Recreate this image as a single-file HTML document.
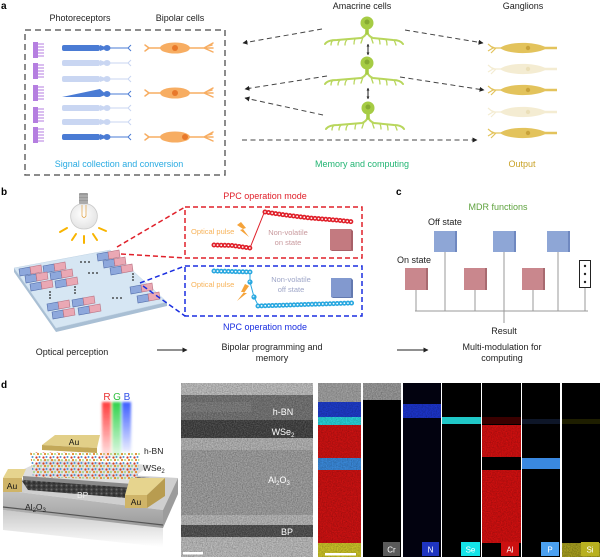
<!DOCTYPE html>
<html><head><meta charset="utf-8">
<style>
html,body{margin:0;padding:0;background:#fff;}
svg{display:block;font-family:"Liberation Sans",Arial,sans-serif;}
</style></head>
<body>
<svg width="600" height="559" viewBox="0 0 600 559" xmlns="http://www.w3.org/2000/svg">
<defs>
  <marker id="ah" viewBox="0 0 10 10" refX="9" refY="5" markerWidth="5" markerHeight="5" orient="auto-start-reverse">
    <path d="M0,0 L10,5 L0,10 Z" fill="#222"/>
  </marker>
  <marker id="ah2" viewBox="0 0 10 10" refX="9" refY="5" markerWidth="3" markerHeight="3" orient="auto-start-reverse">
    <path d="M0,0 L10,5 L0,10 Z" fill="#222"/>
  </marker>
  <filter id="nz" x="0" y="0" width="100%" height="100%">
    <feTurbulence type="fractalNoise" baseFrequency="0.8" numOctaves="2" seed="4"/>
    <feColorMatrix type="matrix" values="0 0 0 0 0  0 0 0 0 0  0 0 0 0 0  0 0 0 -1.4 1.0"/>
  </filter>
  <filter id="nzw" x="0" y="0" width="100%" height="100%">
    <feTurbulence type="fractalNoise" baseFrequency="0.9" numOctaves="2" seed="9"/>
    <feColorMatrix type="matrix" values="0 0 0 0 1  0 0 0 0 1  0 0 0 0 1  0 0 0 -1.6 1.0"/>
  </filter>
  <filter id="bl"><feGaussianBlur stdDeviation="1.2"/></filter>
  <linearGradient id="beamR" x1="0" y1="0" x2="0" y2="1"><stop offset="0" stop-color="#ff3b3b"/><stop offset="1" stop-color="#ff3b3b" stop-opacity="0.1"/></linearGradient>
  <linearGradient id="beamG" x1="0" y1="0" x2="0" y2="1"><stop offset="0" stop-color="#2fd24a"/><stop offset="1" stop-color="#2fd24a" stop-opacity="0.1"/></linearGradient>
  <linearGradient id="beamB" x1="0" y1="0" x2="0" y2="1"><stop offset="0" stop-color="#3b5cff"/><stop offset="1" stop-color="#3b5cff" stop-opacity="0.1"/></linearGradient>
  <linearGradient id="subF" x1="0" y1="0" x2="0" y2="1"><stop offset="0" stop-color="#c4c4c4"/><stop offset="1" stop-color="#9a9a9a"/></linearGradient>
  <linearGradient id="refl" x1="0" y1="0" x2="0" y2="1"><stop offset="0" stop-color="#b0b0b0"/><stop offset="1" stop-color="#ffffff"/></linearGradient>
  <radialGradient id="glass" cx="0.45" cy="0.4" r="0.6"><stop offset="0" stop-color="#ffffff"/><stop offset="1" stop-color="#e4e4e4"/></radialGradient>
  <pattern id="mol" width="7" height="6" patternUnits="userSpaceOnUse">
    <rect width="7" height="6" fill="none"/>
    <circle cx="1.5" cy="1.5" r="1.1" fill="#d23a2a"/>
    <circle cx="4.5" cy="1" r="1" fill="#4d8fd6"/>
    <circle cx="3" cy="4" r="1.1" fill="#e08a2a"/>
    <circle cx="6" cy="4" r="0.9" fill="#8fd05a"/>
    <circle cx="0.5" cy="5" r="0.8" fill="#f2f2f2"/>
  </pattern>
  <pattern id="bpp" width="5" height="4" patternUnits="userSpaceOnUse">
    <rect width="5" height="4" fill="#3c3c3c"/>
    <circle cx="1.5" cy="1.5" r="1" fill="#6a6a6a"/>
    <circle cx="4" cy="3" r="0.8" fill="#222"/>
  </pattern>

  <g id="rod">
    <rect x="62" y="-3" width="38" height="6" rx="2" stroke="none"/>
    <path d="M100,-3 L104,-1.5 L104,1.5 L100,3 Z" stroke="none"/>
    <ellipse cx="107" cy="0" rx="3.5" ry="3" stroke="none"/>
    <path d="M110,0 L128,0 M128,0 L131,-3 M128,0 L131,3" fill="none" stroke-width="1"/>
  </g>
  <g id="bip">
    <ellipse cx="175" cy="0" rx="15" ry="5.5" stroke="none"/>
    <path d="M161,0 L149,0 L145,-3 M149,0 L145,3 M189,0 L204,0 L213,-5 M204,0 L213,0 M204,0 L213,4 M208,-2 L212,-3" fill="none" stroke-width="1.5" stroke-linecap="round"/>
  </g>
  <g id="gg">
    <path d="M500,0 C507,-6 532,-7 545,-1.2 L557,-1.2 L557,1.2 L545,1.2 C532,7 507,6 500,0 Z" stroke="none"/>
    <path d="M501,0 L493,0 L488,-4 M493,0 L488,3 M496,0 L491,5 M495,0 L490,-2" fill="none" stroke-width="1.2"/>
  </g>
  <g id="am" fill="none" stroke="#b8d65c" stroke-linecap="round">
    <path d="M0,5 C0,10 -1,13 -6,15 L-30,17 C-36,17 -40,18 -42,21" stroke-width="2"/>
    <path d="M0,5 C0,10 1,13 6,15 L26,17 C31,17 34,18 36,21" stroke-width="2"/>
    <path d="M-34,17 Q-36,19 -36,22 M-27,17 Q-29,19 -29,22 M-20,16.5 Q-22,19 -22,22 M-12,16 Q-13,18 -13,21 M-4,14 Q-5,17 -6,20 M4,14 Q5,17 6,20 M12,16 Q13,18 13,21 M19,16.5 Q20,19 20,22 M27,17 Q28,19 29,22" stroke-width="1.3"/>
    <path d="M0,3 L0,10" stroke-width="3.5" stroke="#a6cc44"/>
    <circle r="6.5" fill="#a6cc44" stroke="none"/>
    <circle cx="0" cy="-1" r="2.5" fill="#86aa32" stroke="none"/>
  </g>
  <g id="pair" stroke-width="0.6">
    <polygon points="0,2 11,0 12,7 1,9" fill="#8ea8dc" stroke="#4f6aa8"/>
    <polygon points="11,0 22,-2 23,5 12,7" fill="#eaa8b4" stroke="#b87080"/>
  </g>
</defs>

<!-- ================= PANEL A ================= -->
<text x="1" y="9" font-size="10" font-weight="bold" fill="#000">a</text>
<text x="80" y="21" font-size="9" text-anchor="middle" fill="#222">Photoreceptors</text>
<text x="180" y="21" font-size="9" text-anchor="middle" fill="#222">Bipolar cells</text>
<text x="362" y="9" font-size="9" text-anchor="middle" fill="#222">Amacrine cells</text>
<text x="523" y="9" font-size="9" text-anchor="middle" fill="#222">Ganglions</text>

<rect x="25" y="30" width="200" height="145" fill="none" stroke="#666" stroke-width="1.5" stroke-dasharray="6,4"/>

<g fill="#b57ee0" stroke="#b57ee0" stroke-width="0.9">
  <g transform="translate(0,50)"><rect x="33" y="-8" width="5" height="16" stroke="none"/><path d="M38,-6 L44,-6 M38,-3 L44,-3 M38,0 L44,0 M38,3 L44,3 M38,6 L44,6" fill="none"/></g>
  <g transform="translate(0,71)"><rect x="33" y="-8" width="5" height="16" stroke="none"/><path d="M38,-6 L44,-6 M38,-3 L44,-3 M38,0 L44,0 M38,3 L44,3 M38,6 L44,6" fill="none"/></g>
  <g transform="translate(0,93)"><rect x="33" y="-8" width="5" height="16" stroke="none"/><path d="M38,-6 L44,-6 M38,-3 L44,-3 M38,0 L44,0 M38,3 L44,3 M38,6 L44,6" fill="none"/></g>
  <g transform="translate(0,115)"><rect x="33" y="-8" width="5" height="16" stroke="none"/><path d="M38,-6 L44,-6 M38,-3 L44,-3 M38,0 L44,0 M38,3 L44,3 M38,6 L44,6" fill="none"/></g>
  <g transform="translate(0,135)"><rect x="33" y="-8" width="5" height="16" stroke="none"/><path d="M38,-6 L44,-6 M38,-3 L44,-3 M38,0 L44,0 M38,3 L44,3 M38,6 L44,6" fill="none"/></g>
</g>

<use href="#rod" transform="translate(0,48)" fill="#4a7bd4" stroke="#4a7bd4"/>
<use href="#rod" transform="translate(0,63)" fill="#c9d6f2" stroke="#c9d6f2"/>
<use href="#rod" transform="translate(0,79)" fill="#c9d6f2" stroke="#c9d6f2"/>
<g fill="#4a7bd4" stroke="#4a7bd4">
  <path d="M62,97 L100,89 L100,97 Z" stroke="none"/>
  <path d="M100,89 L104,92.5 L104,95.5 L100,97 Z" stroke="none"/>
  <ellipse cx="107" cy="94" rx="3.5" ry="3" stroke="none"/>
  <path d="M110,94 L128,94 M128,94 L131,91 M128,94 L131,97" fill="none" stroke-width="1"/>
</g>
<use href="#rod" transform="translate(0,108)" fill="#c9d6f2" stroke="#c9d6f2"/>
<use href="#rod" transform="translate(0,122)" fill="#c9d6f2" stroke="#c9d6f2"/>
<use href="#rod" transform="translate(0,137)" fill="#4a7bd4" stroke="#4a7bd4"/>

<use href="#bip" transform="translate(0,48)" fill="#f7ad62" stroke="#f7ad62"/>
<circle cx="175" cy="48" r="3" fill="#e8782a"/>
<use href="#bip" transform="translate(0,93)" fill="#f7ad62" stroke="#f7ad62"/>
<circle cx="175" cy="93" r="3" fill="#e8782a"/>
<use href="#bip" transform="translate(0,137)" fill="#f7ad62" stroke="#f7ad62"/>
<circle cx="185" cy="137" r="3" fill="#e8782a"/>

<use href="#am" transform="translate(367,23)"/>
<use href="#am" transform="translate(367,63)"/>
<use href="#am" transform="translate(368,108)"/>
<g stroke="#222" stroke-width="1">
  <line x1="368" y1="44" x2="368" y2="55" marker-start="url(#ah2)" marker-end="url(#ah2)"/>
  <line x1="368" y1="88" x2="368" y2="99" marker-start="url(#ah2)" marker-end="url(#ah2)"/>
</g>

<use href="#gg" transform="translate(0,48)" fill="#e3c35c" stroke="#e3c35c"/>
<circle cx="528" cy="48" r="2.2" fill="#c8a23a"/>
<use href="#gg" transform="translate(0,69)" fill="#f4ecd2" stroke="#f4ecd2"/>
<circle cx="528" cy="69" r="2.2" fill="#ebdfb8"/>
<use href="#gg" transform="translate(0,90)" fill="#e3c35c" stroke="#e3c35c"/>
<circle cx="528" cy="90" r="2.2" fill="#c8a23a"/>
<use href="#gg" transform="translate(0,112)" fill="#f4ecd2" stroke="#f4ecd2"/>
<circle cx="528" cy="112" r="2.2" fill="#ebdfb8"/>
<use href="#gg" transform="translate(0,133)" fill="#e3c35c" stroke="#e3c35c"/>
<circle cx="528" cy="133" r="2.2" fill="#c8a23a"/>

<g stroke="#444" stroke-width="1" stroke-dasharray="5,3.5" fill="none">
  <line x1="322" y1="29" x2="243" y2="43" marker-end="url(#ah)"/>
  <line x1="327" y1="76" x2="245" y2="89" marker-end="url(#ah)"/>
  <line x1="323" y1="115" x2="245" y2="98" marker-end="url(#ah)"/>
  <line x1="242" y1="140" x2="477" y2="140" marker-end="url(#ah)"/>
  <line x1="405" y1="30" x2="483" y2="43" marker-end="url(#ah)"/>
  <line x1="400" y1="77" x2="484" y2="90" marker-end="url(#ah)"/>
</g>

<text x="119" y="167" font-size="9" text-anchor="middle" fill="#29abe2">Signal collection and conversion</text>
<text x="362" y="167" font-size="9" text-anchor="middle" fill="#22b573">Memory and computing</text>
<text x="522" y="167" font-size="9" text-anchor="middle" fill="#c9a227">Output</text>

<!-- ================= PANEL B ================= -->
<text x="1" y="195" font-size="10" font-weight="bold" fill="#000">b</text>

<g>
  <rect x="79" y="193" width="9" height="11" fill="#9a9a9a" rx="1"/>
  <path d="M79,196 L88,196 M79,199 L88,199 M79,202 L88,202" stroke="#c8c8c8" stroke-width="0.8"/>
  <path d="M80,204 C66,208 68,229 84,229 C100,229 102,208 88,204 Z" fill="url(#glass)" stroke="#c9c9c9" stroke-width="0.8"/>
  <path d="M82,205 L82,216 Q84,219 86,216 L86,205" fill="none" stroke="#e0a040" stroke-width="0.7"/>
  <g stroke="#f8b400" stroke-width="2" stroke-linecap="round">
    <line x1="60" y1="232" x2="67" y2="228"/>
    <line x1="72" y1="240" x2="76" y2="234"/>
    <line x1="84" y1="243" x2="84" y2="236"/>
    <line x1="97" y1="240" x2="93" y2="234"/>
    <line x1="106" y1="231" x2="99" y2="228"/>
  </g>
</g>

<polygon points="14,268 56,328 167,302 167,306 56,332 14,272" fill="#a9bfd4"/>
<polygon points="14,268 110,250 167,302 56,328" fill="#d6e6f3" stroke="#c0d3e4" stroke-width="0.5"/>
<use href="#pair" x="19" y="267"/>
<use href="#pair" x="43" y="264"/>
<use href="#pair" x="25" y="274"/>
<use href="#pair" x="50" y="271"/>
<use href="#pair" x="30" y="282"/>
<use href="#pair" x="55" y="279"/>
<use href="#pair" x="97" y="252"/>
<use href="#pair" x="103" y="259"/>
<use href="#pair" x="110" y="266"/>
<use href="#pair" x="47" y="302"/>
<use href="#pair" x="72" y="298"/>
<use href="#pair" x="52" y="310"/>
<use href="#pair" x="78" y="306"/>
<use href="#pair" x="130" y="285"/>
<use href="#pair" x="137" y="294"/>
<g fill="#222">
  <circle cx="81" cy="262" r="0.9"/><circle cx="85" cy="262" r="0.9"/><circle cx="89" cy="262" r="0.9"/>
  <circle cx="89" cy="273" r="0.9"/><circle cx="93" cy="273" r="0.9"/><circle cx="97" cy="273" r="0.9"/>
  <circle cx="113" cy="298" r="0.9"/><circle cx="117" cy="298" r="0.9"/><circle cx="121" cy="298" r="0.9"/>
  <circle cx="50" cy="292" r="0.9"/><circle cx="50" cy="295" r="0.9"/><circle cx="50" cy="298" r="0.9"/>
  <circle cx="75" cy="287" r="0.9"/><circle cx="75" cy="290" r="0.9"/><circle cx="75" cy="293" r="0.9"/>
  <circle cx="133" cy="274" r="0.9"/><circle cx="133" cy="277" r="0.9"/><circle cx="133" cy="280" r="0.9"/>
</g>

<g fill="none" stroke-width="1.5" stroke-dasharray="5,3">
  <line x1="117" y1="247" x2="185" y2="207" stroke="#e0202a"/>
  <line x1="121" y1="254" x2="185" y2="258" stroke="#e0202a"/>
  <line x1="140" y1="283" x2="185" y2="266" stroke="#1a2ee0"/>
  <line x1="143" y1="286" x2="185" y2="316" stroke="#1a2ee0"/>
</g>

<text x="265" y="199" font-size="9" text-anchor="middle" fill="#e0202a">PPC operation mode</text>
<rect x="185" y="207" width="177" height="51" fill="none" stroke="#e0202a" stroke-width="1.5" stroke-dasharray="5,3"/>
<rect x="185" y="266" width="177" height="50" fill="none" stroke="#1a2ee0" stroke-width="1.5" stroke-dasharray="5,3"/>
<text x="265" y="330" font-size="9" text-anchor="middle" fill="#1a2ee0">NPC operation mode</text>

<!-- PPC content -->
<text x="191" y="234" font-size="7.5" fill="#f7b35a">Optical pulse</text>
<polygon points="241,222 246,228 243,229 249,237 240,230 243,229 237,225" fill="#f5a33a"/>
<text x="288" y="235" font-size="7.5" text-anchor="middle" fill="#c99a9e">Non-volatile</text>
<text x="288" y="245" font-size="7.5" text-anchor="middle" fill="#c99a9e">on state</text>
<rect x="330" y="229" width="21" height="21" fill="#c37a80"/>
<polygon points="351,229 353,231 353,251 351,250" fill="#a86068"/>
<polygon points="330,250 351,250 353,251 332,251" fill="#a86068"/>
<line x1="250" y1="248" x2="264" y2="213" stroke="#e0202a" stroke-width="1"/>
<g fill="none" stroke-linecap="round" stroke-dasharray="0 3.6">
  <path d="M214,245 L232,245.5 L250,248" stroke="#e0202a" stroke-width="5"/>
  <path d="M214,245 L232,245.5 L250,248" stroke="#fff" stroke-width="1.8"/>
  <path d="M265,212 L285,215 L310,218 L335,220 L354,222" stroke="#e0202a" stroke-width="5"/>
  <path d="M265,212 L285,215 L310,218 L335,220 L354,222" stroke="#fff" stroke-width="1.8"/>
</g>

<!-- NPC content -->
<text x="191" y="287" font-size="7.5" fill="#f7b35a">Optical pulse</text>
<polygon points="245,284 241,292 244,292 237,301 247,293 244,293 249,286" fill="#f5a33a"/>
<text x="291" y="282" font-size="7.5" text-anchor="middle" fill="#9ea6c8">Non-volatile</text>
<text x="291" y="292" font-size="7.5" text-anchor="middle" fill="#9ea6c8">off state</text>
<rect x="331" y="278" width="20" height="19" fill="#8299cf"/>
<polygon points="351,278 353,280 353,298 351,297" fill="#6379b0"/>
<polygon points="331,297 351,297 353,298 333,298" fill="#6379b0"/>
<path d="M250,272 L250,282 L254,297 L258,305" fill="none" stroke="#29a8e0" stroke-width="1"/>
<g fill="none" stroke-linecap="round" stroke-dasharray="0 3.6">
  <path d="M214,271 L250,272" stroke="#29a8e0" stroke-width="5"/>
  <path d="M214,271 L250,272" stroke="#fff" stroke-width="1.8"/>
  <path d="M258,306 L353,303" stroke="#29a8e0" stroke-width="5"/>
  <path d="M258,306 L353,303" stroke="#fff" stroke-width="1.8"/>
</g>
<circle cx="250" cy="282" r="2.6" fill="#29a8e0"/>
<circle cx="254" cy="297" r="2.6" fill="#29a8e0"/>
<circle cx="249.5" cy="281.5" r="0.9" fill="#bfe6f8"/>
<circle cx="253.5" cy="296.5" r="0.9" fill="#bfe6f8"/>

<text x="72" y="355" font-size="9" text-anchor="middle" fill="#222">Optical perception</text>
<line x1="157" y1="350" x2="187" y2="350" stroke="#222" stroke-width="1" marker-end="url(#ah)"/>
<text x="272" y="350" font-size="9" text-anchor="middle" fill="#222">Bipolar programming and</text>
<text x="272" y="361" font-size="9" text-anchor="middle" fill="#222">memory</text>

<!-- ================= PANEL C ================= -->
<text x="396" y="195" font-size="10" font-weight="bold" fill="#000">c</text>
<text x="498" y="210" font-size="9" text-anchor="middle" fill="#5ea23e">MDR functions</text>
<text x="428" y="225" font-size="9" fill="#222">Off state</text>
<text x="397" y="263" font-size="9" fill="#222">On state</text>
<g stroke="#999" stroke-width="1" fill="none">
  <line x1="415" y1="311" x2="588" y2="311"/>
  <line x1="416" y1="290" x2="416" y2="311"/>
  <line x1="445" y1="252" x2="445" y2="311"/>
  <line x1="475" y1="290" x2="475" y2="311"/>
  <line x1="504" y1="252" x2="504" y2="323"/>
  <line x1="533" y1="290" x2="533" y2="311"/>
  <line x1="558" y1="252" x2="558" y2="311"/>
  <line x1="585" y1="288" x2="585" y2="311"/>
</g>
<g>
  <rect x="434" y="231" width="22" height="21" fill="#8ea6d6"/><rect x="455" y="231" width="2" height="21" fill="#6f88c0"/>
  <rect x="493" y="231" width="22" height="21" fill="#8ea6d6"/><rect x="514" y="231" width="2" height="21" fill="#6f88c0"/>
  <rect x="547" y="231" width="22" height="21" fill="#8ea6d6"/><rect x="568" y="231" width="2" height="21" fill="#6f88c0"/>
  <rect x="405" y="268" width="22" height="22" fill="#c9878d"/><rect x="426" y="268" width="2" height="22" fill="#a86a70"/>
  <rect x="464" y="268" width="22" height="22" fill="#c9878d"/><rect x="485" y="268" width="2" height="22" fill="#a86a70"/>
  <rect x="522" y="268" width="22" height="22" fill="#c9878d"/><rect x="543" y="268" width="2" height="22" fill="#a86a70"/>
  <rect x="579.5" y="260.5" width="11" height="27" fill="#fff" stroke="#222" stroke-width="1"/>
  <circle cx="585" cy="266" r="1.2" fill="#222"/><circle cx="585" cy="274" r="1.2" fill="#222"/><circle cx="585" cy="282" r="1.2" fill="#222"/>
</g>
<text x="504" y="334" font-size="9" text-anchor="middle" fill="#222">Result</text>
<line x1="397" y1="350" x2="428" y2="350" stroke="#222" stroke-width="1" marker-end="url(#ah)"/>
<text x="502" y="350" font-size="9" text-anchor="middle" fill="#222">Multi-modulation for</text>
<text x="502" y="361" font-size="9" text-anchor="middle" fill="#222">computing</text>

<!-- ================= PANEL D ================= -->
<text x="1" y="388" font-size="10" font-weight="bold" fill="#000">d</text>

<!-- device -->
<polygon points="3,510 163,527 163,547 3,530" fill="url(#refl)" opacity="0.7"/>
<polygon points="3,490 40,470 178,478 163,510" fill="#cfcfcf"/>
<polygon points="3,490 163,510 163,528 3,510" fill="url(#subF)"/>
<line x1="3" y1="507" x2="163" y2="525" stroke="#555" stroke-width="1.2"/>
<polygon points="163,510 178,478 178,494 163,528" fill="#9c9c9c"/>
<!-- BP -->
<polygon points="22,481 42,472 150,478 127,498 28,490" fill="url(#bpp)"/>
<!-- WSe2 slab -->
<polygon points="22,470 45,459 150,465 138,474 133,486 23,478" fill="#dedede"/>
<polygon points="23,476 133,484 133,488 23,480" fill="#8a8a8a"/>
<!-- molecules -->
<polygon points="30,452 140,453 137,480 33,477" fill="url(#mol)"/>
<!-- left Au -->
<polygon points="3,478 8,469 26,469 22,478" fill="#e6d48e"/>
<polygon points="3,478 22,478 22,492 3,492" fill="#cfb468"/>
<text x="12" y="489" font-size="8.5" text-anchor="middle" fill="#111">Au</text>
<!-- right Au -->
<polygon points="125,495 130,478 165,478 147,495" fill="#e6d48e"/>
<polygon points="125,495 147,495 147,508 125,508" fill="#cfb468"/>
<polygon points="147,495 165,478 165,496 147,508" fill="#b89c50"/>
<text x="136" y="505" font-size="8.5" text-anchor="middle" fill="#111">Au</text>
<!-- top Au -->
<polygon points="42,445 55,435 100,435 97,448" fill="#e2cf88"/>
<polygon points="42,445 97,448 97,453 42,450" fill="#c3a858"/>
<text x="74" y="445" font-size="8.5" text-anchor="middle" fill="#111">Au</text>
<!-- beams -->
<g filter="url(#bl)">
  <rect x="102" y="402" width="9" height="56" fill="url(#beamR)"/>
  <rect x="112" y="402" width="9" height="56" fill="url(#beamG)"/>
  <rect x="122" y="402" width="9" height="50" fill="url(#beamB)"/>
</g>
<text x="107" y="400" font-size="10" text-anchor="middle" fill="#e83030">R</text>
<text x="117" y="400" font-size="10" text-anchor="middle" fill="#2cbf3c">G</text>
<text x="127" y="400" font-size="10" text-anchor="middle" fill="#3050e8">B</text>
<text x="144" y="454" font-size="8.5" fill="#222">h-BN</text>
<text x="143" y="471" font-size="8.5" fill="#222">WSe<tspan font-size="6" dy="2">2</tspan></text>
<text x="77" y="498" font-size="8.5" fill="#eee">BP</text>
<text x="25" y="510" font-size="8.5" fill="#222">Al<tspan font-size="6" dy="2">2</tspan><tspan dy="-2">O</tspan><tspan font-size="6" dy="2">3</tspan></text>

<!-- TEM -->
<g>
  <rect x="181" y="383" width="132" height="174" fill="#9c9c9c"/>
  <rect x="181" y="383" width="132" height="12" fill="#bcbcbc"/>
  <rect x="181" y="395" width="132" height="25" fill="#6e6e6e"/>
  <rect x="181" y="402" width="70" height="10" fill="#7c7c7c" opacity="0.7"/>
  <rect x="181" y="420" width="132" height="18" fill="#3c3c3c"/>
  <rect x="181" y="438" width="132" height="12" fill="#b0b0b0"/>
  <rect x="181" y="450" width="132" height="65" fill="#9a9a9a"/>
  <rect x="181" y="515" width="132" height="10" fill="#b4b4b4"/>
  <rect x="181" y="525" width="132" height="12" fill="#4a4a4a"/>
  <rect x="181" y="537" width="132" height="20" fill="#b8b8b8"/>
  <rect x="181" y="383" width="132" height="174" filter="url(#nz)" opacity="0.35"/>
  <rect x="181" y="383" width="132" height="174" filter="url(#nzw)" opacity="0.25"/>
  <text x="283" y="415" font-size="9" fill="#fff" text-anchor="middle">h-BN</text>
  <text x="283" y="435" font-size="9" fill="#fff" text-anchor="middle">WSe<tspan font-size="6" dy="2">2</tspan></text>
  <text x="279" y="483" font-size="9" fill="#fff" text-anchor="middle">Al<tspan font-size="6" dy="2">2</tspan><tspan dy="-2">O</tspan><tspan font-size="6" dy="2">3</tspan></text>
  <text x="287" y="535" font-size="9" fill="#fff" text-anchor="middle">BP</text>
  <rect x="183" y="552" width="20" height="2.5" fill="#fff"/>
</g>

<!-- EDS panel 1 -->
<g>
  <rect x="318" y="383" width="43" height="174" fill="#000"/>
  <rect x="318" y="383" width="43" height="19" fill="#a0a0a0"/>
  <rect x="318" y="402" width="43" height="15" fill="#1e3cc8"/>
  <rect x="318" y="417" width="43" height="8" fill="#28d0d8"/>
  <rect x="318" y="425" width="43" height="33" fill="#cc1212"/>
  <rect x="318" y="458" width="43" height="12" fill="#3a88d8"/>
  <rect x="318" y="470" width="43" height="73" fill="#cc1212"/>
  <rect x="318" y="543" width="43" height="14" fill="#c8c028"/>
  <rect x="318" y="383" width="43" height="174" filter="url(#nz)" opacity="0.3"/>
  <rect x="325" y="553" width="31" height="2.5" fill="#fff"/>
</g>
<g>
  <rect x="363" y="383" width="38" height="174" fill="#000"/>
  <rect x="363" y="383" width="38" height="17" fill="#9a9a9a"/>
  <rect x="363" y="383" width="38" height="17" filter="url(#nz)" opacity="0.35"/>
  <rect x="383" y="542" width="17" height="14" fill="#5a5a5a"/>
  <text x="391.5" y="552.5" font-size="8" fill="#fff" text-anchor="middle">Cr</text>
</g>
<g>
  <rect x="403" y="383" width="38" height="174" fill="#02020f"/>
  <rect x="403" y="404" width="38" height="14" fill="#1c34c8"/>
  <rect x="403" y="404" width="38" height="14" filter="url(#nz)" opacity="0.3"/>
  <rect x="422" y="542" width="17" height="14" fill="#1f35c0"/>
  <text x="430.5" y="552.5" font-size="8" fill="#fff" text-anchor="middle">N</text>
</g>
<g>
  <rect x="442" y="383" width="39" height="174" fill="#000"/>
  <rect x="442" y="417" width="39" height="7" fill="#20c8c8"/>
  <rect x="461" y="542" width="19" height="14" fill="#14e4e8"/>
  <text x="470.5" y="552.5" font-size="8" fill="#fff" text-anchor="middle">Se</text>
</g>
<g>
  <rect x="482" y="383" width="39" height="174" fill="#000"/>
  <rect x="482" y="417" width="39" height="7" fill="#3a0000"/>
  <rect x="482" y="425" width="39" height="32" fill="#d01010"/>
  <rect x="482" y="470" width="39" height="73" fill="#d01010"/>
  <rect x="482" y="425" width="39" height="118" filter="url(#nz)" opacity="0.3"/>
  <rect x="501" y="542" width="18" height="14" fill="#cc1010"/>
  <text x="510" y="552.5" font-size="8" fill="#fff" text-anchor="middle">Al</text>
</g>
<g>
  <rect x="522" y="383" width="38" height="174" fill="#000"/>
  <rect x="522" y="419" width="38" height="5" fill="#0e1628"/>
  <rect x="522" y="458" width="38" height="11" fill="#3a88e0"/>
  <rect x="541" y="542" width="18" height="14" fill="#4aa0f0"/>
  <text x="550" y="552.5" font-size="8" fill="#fff" text-anchor="middle">P</text>
</g>
<g>
  <rect x="562" y="383" width="38" height="174" fill="#000"/>
  <rect x="562" y="419" width="38" height="5" fill="#1e1e00"/>
  <rect x="562" y="543" width="38" height="14" fill="#a8a020"/>
  <rect x="562" y="543" width="38" height="14" filter="url(#nz)" opacity="0.4"/>
  <rect x="581" y="542" width="18" height="14" fill="#b8b020"/>
  <text x="590" y="552.5" font-size="8" fill="#fff" text-anchor="middle">Si</text>
</g>
</svg>
</body></html>
